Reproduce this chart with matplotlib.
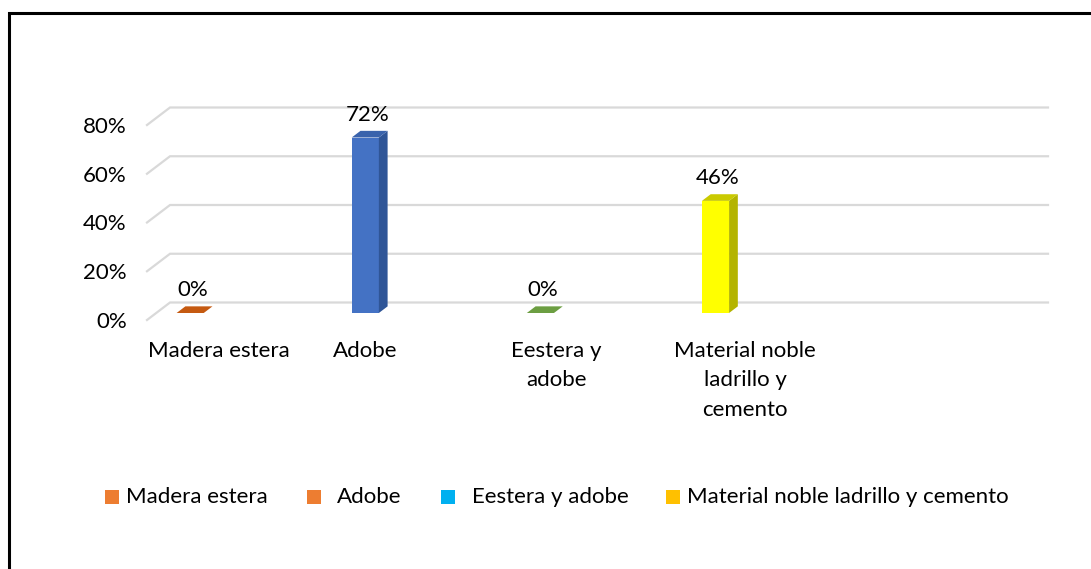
import matplotlib
matplotlib.use('Agg')
import matplotlib.pyplot as plt
from matplotlib.patches import Polygon, Rectangle
from matplotlib.lines import Line2D

# data
categories = ['Madera estera', 'Adobe', 'Eestera y adobe', 'Material noble ladrillo y cemento']
tick_labels = ['Madera estera', 'Adobe', 'Eestera y\nadobe', 'Material noble\nladrillo y\ncemento']
values = [0.0, 0.72, 0.0, 0.46]
y_ticks = [0.0, 0.2, 0.4, 0.6, 0.8]

# styles
face_colors = ['#ED7D31', '#4472C4', '#70AD47', '#FFFF00']
side_colors = ['#C55A11', '#2F5597', '#548235', '#B4B400']
top_colors = ['#C55A11', '#3A63AC', '#6C9E42', '#CACA00']
legend_colors = ['#ED7D31', '#ED7D31', '#00B0F0', '#FFC000']
label_x = [0.217, 1.052, 2.143, 3.223]
legend_sq_x = [105, 307, 441, 666]
legend_txt_x = [126, 337, 472, 687]

plt.rcParams['font.family'] = ['Lato', 'DejaVu Sans']
plt.rcParams['font.size'] = 16

W, H = 1091, 569
fig = plt.figure(figsize=(W / 100, H / 100), dpi=100)

def px(x0, y0, x1, y1):
    return [x0 / W, 1 - y1 / H, (x1 - x0) / W, (y1 - y0) / H]

ax = fig.add_axes(px(147, 125, 1025, 320))
xmin, xmax = -0.194, 4.82
ax.set_xlim(xmin, xmax)
ax.set_ylim(0, 0.8)
for s in ax.spines.values():
    s.set_visible(False)
ax.patch.set_visible(False)

# 3d depth in data units
DX = 23 / 175
DY = 17.5 / 195 * 0.8
d0, d1 = 0.4, 0.78
bw = 0.155

#--- back wall gridlines
for t in y_ticks:
    ax.plot([xmin, xmin + DX, xmax + DX], [t, t + DY, t + DY], color='#D9D9D9',
            lw=1.6, clip_on=False, zorder=1, solid_joinstyle='miter')

#--- bars
for i, v in enumerate(values):
    xl = i - bw / 2
    xr = i + bw / 2
    if v > 0:
        ax.add_patch(Rectangle((xl + d0 * DX, d0 * DY), bw, v, facecolor=face_colors[i],
                               edgecolor='none', zorder=3))
        ax.add_patch(Polygon([(xr + d0 * DX, d0 * DY), (xr + d1 * DX, d1 * DY),
                              (xr + d1 * DX, v + d1 * DY), (xr + d0 * DX, v + d0 * DY)],
                             closed=True, facecolor=side_colors[i], edgecolor='none', zorder=3))
    ax.add_patch(Polygon([(xl + d0 * DX, v + d0 * DY), (xr + d0 * DX, v + d0 * DY),
                          (xr + d1 * DX, v + d1 * DY), (xl + d1 * DX, v + d1 * DY)],
                         closed=True, facecolor=top_colors[i], edgecolor='none', zorder=3))
    ax.annotate('{:.0f}%'.format(v * 100), xy=(i + (d0 + 0.1) * DX, v + d1 * DY),
                xytext=(0, 11.5), textcoords='offset points', ha='center', va='center',
                annotation_clip=False, zorder=4)

#--- axes labels
ax.set_yticks(y_ticks, ['{:.0f}%'.format(t * 100) for t in y_ticks])
ax.set_xticks(label_x, tick_labels, linespacing=1.6)
ax.tick_params(axis='y', length=0, pad=14.5)
ax.tick_params(axis='x', length=0, pad=15)

#--- legend
for c, sx, tx, name in zip(legend_colors, legend_sq_x, legend_txt_x, categories):
    fig.add_artist(Rectangle((sx / W, 1 - 504 / H), 14 / W, 14 / H, transform=fig.transFigure,
                             facecolor=c, edgecolor='none'))
    fig.text(tx / W, 1 - 497 / H, name, ha='left', va='center')

#--- frame (only left / top edges visible)
fig.add_artist(Line2D([9 / W, 9 / W, 1], [0, 1 - 13 / H, 1 - 13 / H], color='black', lw=2.2,
                      transform=fig.transFigure, solid_joinstyle='miter'))

fig.savefig('out.png', dpi=100)
